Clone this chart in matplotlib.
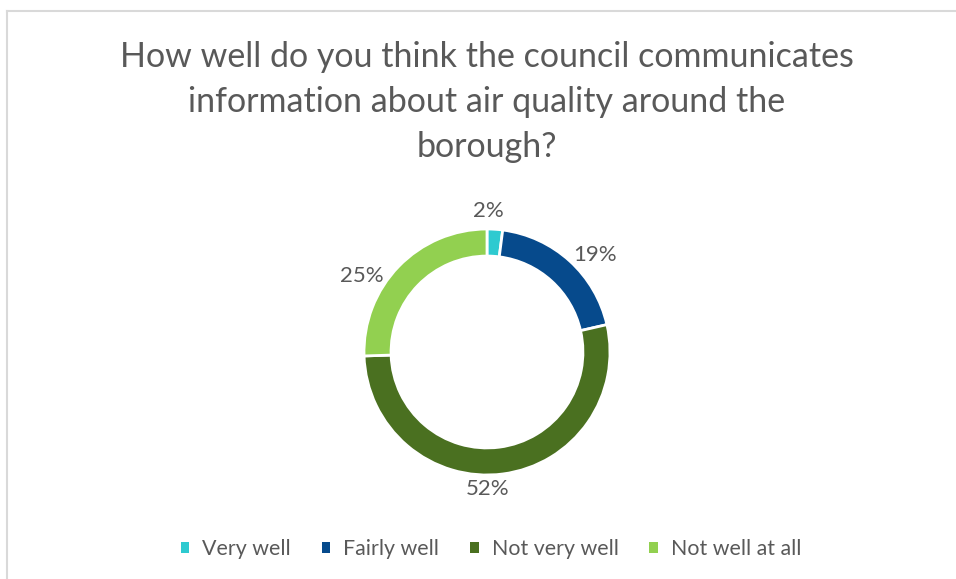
import numpy as np
import matplotlib.pyplot as plt
from matplotlib.lines import Line2D
from matplotlib.patches import Patch

categories = ['Very well', 'Fairly well', 'Not very well', 'Not well at all']
values = [2, 19, 52, 25]
labels = ['2%', '19%', '52%', '25%']
colors = ['#2ECAD0', '#064A8C', '#4A7020', '#92D050']

text_color = '#595959'
plt.rcParams['font.family'] = ['Lato', 'DejaVu Sans']

W, H = 956, 579
fig = plt.figure(figsize=(W / 100, H / 100), dpi=100)

# marco gris claro del gráfico (solo arriba e izquierda visibles)
fig.add_artist(Line2D([7 / W, 1], [1 - 11 / H, 1 - 11 / H], color='#D9D9D9', lw=1.5))
fig.add_artist(Line2D([7 / W, 7 / W], [0, 1 - 11 / H], color='#D9D9D9', lw=1.5))

fig.text(487 / W, 1 - 102 / H,
         "How well do you think the council communicates\ninformation about air quality around the\nborough?",
         ha='center', va='center', fontsize=24.5, color=text_color, linespacing=1.5)

# ejes centrados en el donut
cx, cy, r = 487, 352, 123
half = 170
ax = fig.add_axes([(cx - half) / W, (H - cy - half) / H, 2 * half / W, 2 * half / H])

wedges, _ = ax.pie(values, colors=colors, startangle=90, counterclock=False,
                   radius=1, wedgeprops=dict(width=0.22, edgecolor='white', linewidth=2))
# pie() fija sus propios límites, así que se ponen después
lim = half / r
ax.set_xlim(-lim, lim)
ax.set_ylim(-lim, lim)
ax.axis('off')

# distancia y pequeño giro de cada etiqueta (estilo "best fit" de Excel)
label_r = [1.15, 1.18, 1.11, 1.19]
label_shift = [3, -6, -7, 13]
for w, lab, lr, sh in zip(wedges, labels, label_r, label_shift):
    ang = np.deg2rad((w.theta1 + w.theta2) / 2 + sh)
    ax.text(lr * np.cos(ang), lr * np.sin(ang), lab, ha='center', va='center',
            fontsize=16, color=text_color)

handles = [Patch(facecolor=c, edgecolor='none') for c in colors]
fig.legend(handles, categories, loc='center', bbox_to_anchor=(491 / W, 1 - 549 / H),
           ncol=4, frameon=False, fontsize=15.4, labelcolor=text_color,
           handlelength=0.4, handleheight=0.4, handletextpad=0.6, columnspacing=1.45)

fig.savefig('out.png', dpi=100)
